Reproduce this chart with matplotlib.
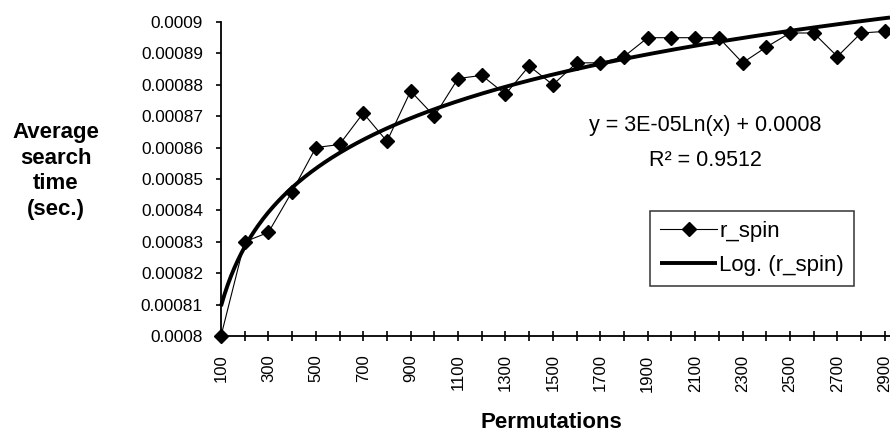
import numpy as np
import matplotlib
matplotlib.use("Agg")
import matplotlib.pyplot as plt
from matplotlib import font_manager
from matplotlib.ticker import FixedLocator, FuncFormatter

# ---- data ----
permutations = [100, 200, 300, 400, 500, 600, 700, 800, 900, 1000,
                1100, 1200, 1300, 1400, 1500, 1600, 1700, 1800, 1900, 2000,
                2100, 2200, 2300, 2400, 2500, 2600, 2700, 2800, 2900]
r_spin = [0.000800, 0.000830, 0.000833, 0.000846, 0.000860, 0.000861, 0.000871,
          0.000862, 0.000878, 0.000870, 0.000882, 0.000883, 0.000877, 0.000886,
          0.000880, 0.000887, 0.000887, 0.000889, 0.000895, 0.000895, 0.000895,
          0.000895, 0.000887, 0.000892, 0.0008965, 0.0008965, 0.000889, 0.0008965,
          0.000897]
y_ticks = [0.0008, 0.00081, 0.00082, 0.00083, 0.00084, 0.00085, 0.00086,
           0.00087, 0.00088, 0.00089, 0.0009]
y_tick_labels = ["0.0008", "0.00081", "0.00082", "0.00083", "0.00084", "0.00085",
                 "0.00086", "0.00087", "0.00088", "0.00089", "0.0009"]
x_tick_labels = ["100", "300", "500", "700", "900", "1100", "1300", "1500", "1700",
                 "1900", "2100", "2300", "2500", "2700", "2900"]
equation_text = "y = 3E-05Ln(x) + 0.0008"
r2_text = "R\u00b2 = 0.9512"

installed = {f.name for f in font_manager.fontManager.ttflist}
REG = ["Liberation Sans", "DejaVu Sans"]
if "Liberation Sans Narrow" in installed:
    TICKFONT = ["Liberation Sans Narrow", "Liberation Sans"]
    ytick_size, xtick_size = 15, 14.5
else:
    TICKFONT = REG
    ytick_size, xtick_size = 12.4, 12.0
plt.rcParams['font.family'] = REG

fig = plt.figure(figsize=(8.9, 4.38), dpi=100)
ax = fig.add_axes([221/890, 1-336/438, 1-221/890, (336-22)/438])

x = np.array(permutations, dtype=float)
y = np.array(r_spin)

# logarithmic trend line (Excel style: fit on category index)
idx = np.arange(1, len(x) + 1)
a, b = np.polyfit(np.log(idx), y, 1)
x_right = 2922
xs = np.linspace(100, x_right, 400)
ys = a * np.log(xs / 100.0) + b

ax.plot(xs, ys, color="black", lw=2.8, solid_capstyle="butt", clip_on=False,
        label="Log. (r_spin)", zorder=2)
ax.plot(x, y, color="black", lw=0.8, marker="D", markersize=7.5,
        markerfacecolor="black", markeredgecolor="black", clip_on=False,
        label="r_spin", zorder=3)

ax.set_xlim(100, x_right)
ax.set_ylim(0.0008, 0.0009)

ax.yaxis.set_major_locator(FixedLocator(y_ticks))
ax.set_yticklabels(y_tick_labels)
ax.xaxis.set_major_locator(FixedLocator(x))
lab_map = {float(t): t for t in x_tick_labels}
ax.xaxis.set_major_formatter(FuncFormatter(lambda v, p: lab_map.get(float(v), "")))

for s in ["top", "right"]:
    ax.spines[s].set_visible(False)
for s in ["left", "bottom"]:
    ax.spines[s].set_linewidth(1.3)
    ax.spines[s].set_color("black")

ax.tick_params(axis="y", direction="out", length=3.6, width=1.2, pad=9.4,
               labelsize=ytick_size, colors="black")
ax.tick_params(axis="x", direction="inout", length=6.5, width=1.2, pad=10,
               labelsize=xtick_size, labelrotation=90, colors="black")
for lab in ax.get_xticklabels() + ax.get_yticklabels():
    lab.set_family(TICKFONT)

# y-axis title
fig.text(56/890, 1-171/438, "Average\nsearch\ntime\n(sec.)", ha="center", va="center",
         fontsize=16, fontweight="bold", linespacing=1.3)
# x-axis title
fig.text(551/890, 1-423/438, "Permutations", ha="center", va="center",
         fontsize=16, fontweight="bold")

# trendline equation
fig.text(705/890, 1-125/438, equation_text, ha="center", va="center", fontsize=15.5)
fig.text(705/890, 1-160/438, r2_text, ha="center", va="center", fontsize=15.5)

handles, labels = ax.get_legend_handles_labels()
leg = fig.legend(handles[::-1], labels[::-1], loc="center",
                 bbox_to_anchor=(752/890, 1-248.5/438), bbox_transform=fig.transFigure,
                 frameon=True, fancybox=False, shadow=False, fontsize=16,
                 handlelength=2.55, handletextpad=0.1, borderpad=0.45,
                 labelspacing=0.6, borderaxespad=0)
leg.get_frame().set_edgecolor("black")
leg.get_frame().set_linewidth(1.1)

fig.savefig("out.png", dpi=100)
